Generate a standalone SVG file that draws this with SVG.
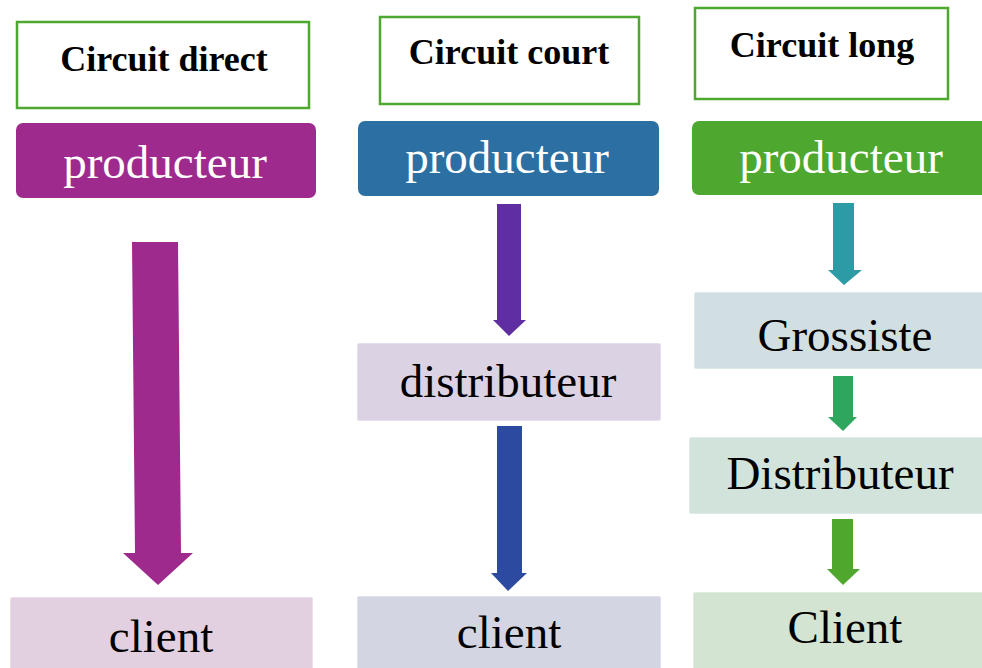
<svg xmlns="http://www.w3.org/2000/svg" width="982" height="668" viewBox="0 0 982 668">
  <style>
    .title { fill: #ffffff; stroke: #4ea72e; stroke-width: 2.5; }
    .title-text { font-family: "Liberation Serif", "Times New Roman", serif; font-weight: bold; font-size: 36px; fill: #000000; text-anchor: middle; }
    .label { font-family: "Liberation Serif", "Times New Roman", serif; font-size: 47px; text-anchor: middle; }
    .light { fill: #ffffff; }
    .dark { fill: #000000; }
    .step { stroke: #ffffff; stroke-opacity: 0.6; stroke-width: 1; }
  </style>

  <rect width="982" height="668" fill="#ffffff"/>

  <!-- Column 1: direct channel -->
  <g id="title-direct">
    <rect class="title" x="17" y="22" width="292" height="86"/>
    <text class="title-text" x="164" y="71">Circuit direct</text>
  </g>
  <g id="producer-direct">
    <rect x="16" y="123" width="300" height="75" rx="7" fill="#9f2a8e"/>
    <text class="label light" x="165" y="178">producteur</text>
  </g>
  <g id="client-direct">
    <rect class="step" x="10" y="597" width="303" height="75" rx="2" fill="#e2d0e1"/>
    <text class="label dark" x="161" y="652">client</text>
  </g>

  <!-- Column 2: short channel -->
  <g id="title-short">
    <rect class="title" x="380" y="17" width="259" height="87"/>
    <text class="title-text" x="509" y="64">Circuit court</text>
  </g>
  <g id="producer-short">
    <rect x="358" y="121" width="301" height="75" rx="7" fill="#2c6fa2"/>
    <text class="label light" x="507" y="173">producteur</text>
  </g>
  <g id="distributor-short">
    <rect class="step" x="357" y="343" width="304" height="78" rx="2" fill="#dbd2e3"/>
    <text class="label dark" x="508" y="397">distributeur</text>
  </g>
  <g id="client-short">
    <rect class="step" x="357" y="596" width="304" height="76" rx="2" fill="#d3d5e2"/>
    <text class="label dark" x="509" y="648">client</text>
  </g>

  <!-- Column 3: long channel -->
  <g id="title-long">
    <rect class="title" x="695" y="8" width="253" height="91"/>
    <text class="title-text" x="822" y="57">Circuit long</text>
  </g>
  <g id="producer-long">
    <rect x="692" y="121" width="300" height="74" rx="7" fill="#4ea72e"/>
    <text class="label light" x="841" y="173">producteur</text>
  </g>
  <g id="wholesaler-long">
    <rect class="step" x="694" y="292" width="300" height="77" rx="2" fill="#d1dfe2"/>
    <text class="label dark" x="845" y="351">Grossiste</text>
  </g>
  <g id="distributor-long">
    <rect class="step" x="689" y="437" width="305" height="77" rx="2" fill="#d2e3dc"/>
    <text class="label dark" x="840" y="489">Distributeur</text>
  </g>
  <g id="client-long">
    <rect class="step" x="693" y="592" width="300" height="80" rx="2" fill="#d4e4d2"/>
    <text class="label dark" x="845" y="643">Client</text>
  </g>

  <!-- Block arrows between the stages -->
  <g id="connectors">
    <polygon fill="#9f2a8e" points="132,242 178,242 181,553 193,553 158,585 123,553 135,553"/>
    <polygon fill="#5f2ea0" points="497,204 521,204 521,320 526,320 509,336 493,320 497,320"/>
    <polygon fill="#2d4aa1" points="497,426 522,426 522,573 527,573 508,591 491,573 497,573"/>
    <polygon fill="#2d9ba5" points="833,203 854,203 854,270 862,270 844,285 828,270 833,270"/>
    <polygon fill="#2ea65e" points="833,376 853,376 853,417 857,417 843,431 828,417 833,417"/>
    <polygon fill="#4fa72e" points="832,519 853,519 853,569 860,569 843,585 827,569 832,569"/>
  </g>
</svg>
